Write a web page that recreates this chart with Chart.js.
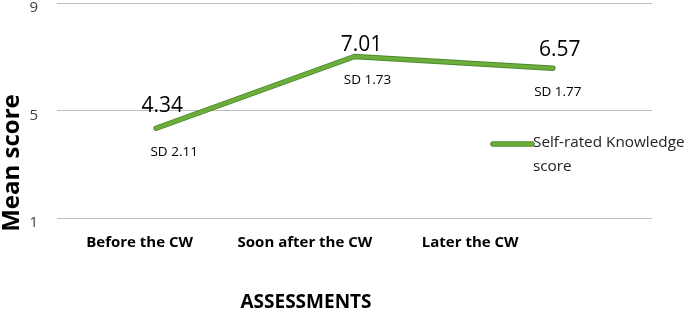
<!DOCTYPE html>
<html>
<head>
<meta charset="utf-8">
<script src="https://cdn.jsdelivr.net/npm/chart.js@4.4.1/dist/chart.umd.min.js"></script>
<style>
  html, body { margin: 0; padding: 0; background: #fff; }
  #wrap { width: 685px; height: 318px; }
</style>
</head>
<body>
<div id="wrap"><canvas id="myChart"></canvas></div>
<script>
const assessments = ["Before the CW", "Soon after the CW", "Later the CW"];
const meanScores = [4.34, 7.01, 6.57];
const sdLabels = ["SD 2.11", "SD 1.73", "SD 1.77"];
const yTicks = [1, 5, 9];
const seriesName = ["Self-rated Knowledge", "score"];

const FONT = "'Open Sans', 'DejaVu Sans', sans-serif";

// outline under the green line + value / SD labels + legend + axis titles
const decorations = {
  id: "decorations",
  beforeDatasetsDraw(chart) {
    const ctx = chart.ctx;
    const pts = chart.getDatasetMeta(0).data;
    ctx.save();
    ctx.strokeStyle = "#4f8a2c";
    ctx.lineWidth = 5.5;
    ctx.lineJoin = "round";
    ctx.lineCap = "round";
    ctx.beginPath();
    pts.forEach((p, i) => (i ? ctx.lineTo(p.x, p.y) : ctx.moveTo(p.x, p.y)));
    ctx.stroke();
    ctx.restore();
  },
  afterDraw(chart) {
    const ctx = chart.ctx;
    const area = chart.chartArea;
    const pts = chart.getDatasetMeta(0).data;
    const valOff = [[6, -16], [7, -5], [7, -12]];
    const sdOff = [[18, 28], [13, 28], [5, 28]];
    ctx.save();
    ctx.fillStyle = "#000";
    ctx.textAlign = "center";
    ctx.textBaseline = "alphabetic";
    pts.forEach((p, i) => {
      ctx.font = "21px " + FONT;
      ctx.fillText(meanScores[i].toFixed(2), p.x + valOff[i][0], p.y + valOff[i][1]);
      ctx.font = "13.5px " + FONT;
      ctx.fillText(sdLabels[i], p.x + sdOff[i][0], p.y + sdOff[i][1]);
    });

    // legend
    const lx = 493, ly = 144;
    ctx.strokeStyle = "#4f8a2c";
    ctx.lineWidth = 5.5;
    ctx.lineCap = "round";
    ctx.beginPath(); ctx.moveTo(lx, ly); ctx.lineTo(lx + 39, ly); ctx.stroke();
    ctx.strokeStyle = "#6cae3c";
    ctx.lineWidth = 3.5;
    ctx.beginPath(); ctx.moveTo(lx, ly); ctx.lineTo(lx + 39, ly); ctx.stroke();
    ctx.fillStyle = "#222";
    ctx.textAlign = "left";
    ctx.textBaseline = "middle";
    ctx.font = "15.3px " + FONT;
    ctx.fillText(seriesName[0], lx + 40, ly - 1);
    ctx.fillText(seriesName[1], lx + 40, ly + 23);

    // axis titles
    ctx.fillStyle = "#000";
    ctx.font = "bold 24px " + FONT;
    ctx.textAlign = "center";
    ctx.save();
    ctx.translate(12, 163);
    ctx.rotate(-Math.PI / 2);
    ctx.fillText("Mean score", 0, 0);
    ctx.restore();
    ctx.font = "bold 19px " + FONT;
    ctx.fillText("ASSESSMENTS", area.left + 249, 303);
    ctx.restore();
  }
};

const chart = new Chart(document.getElementById("myChart").getContext("2d"), {
  type: "line",
  data: {
    labels: assessments,
    datasets: [
      {
        label: seriesName.join(" "),
        data: meanScores,
        borderColor: "#6cae3c",
        borderWidth: 3.5,
        borderJoinStyle: "round",
        borderCapStyle: "round",
        pointRadius: 0,
        tension: 0,
        xAxisID: "x",
      },
    ],
  },
  options: {
    responsive: true,
    maintainAspectRatio: false,
    animation: false,
    layout: { padding: { top: 3, right: 33, left: 0, bottom: 0 } },
    plugins: { legend: { display: false }, tooltip: { enabled: false } },
    scales: {
      x: {
        type: "category",
        offset: true,
        display: false,
      },
      xl: {
        type: "linear",
        position: "bottom",
        min: 0,
        max: 3.6,
        afterBuildTicks: (scale) => {
          scale.ticks = assessments.map((c, i) => ({ value: i + 0.5 }));
        },
        afterFit: (scale) => { scale.height = 100; },
        grid: { display: false, drawTicks: false },
        border: { display: false },
        ticks: {
          padding: 16,
          color: "#000",
          font: { family: FONT, size: 15, weight: "bold" },
          callback: (v) => assessments[Math.round(v - 0.5)],
          maxRotation: 0,
        },
      },
      y: {
        min: 1,
        max: 9,
        afterBuildTicks: (scale) => {
          scale.ticks = yTicks.map((v) => ({ value: v }));
        },
        afterFit: (scale) => {
          scale.width = 57;
          scale.paddingTop = 0;
          scale.paddingBottom = 0;
        },
        grid: { color: "#bfbfbf", lineWidth: 1, drawTicks: true, tickLength: 19, tickColor: "rgba(0,0,0,0)" },
        border: { display: false },
        ticks: {
          padding: 0,
          labelOffset: 5,
          color: "#404040",
          font: { family: FONT, size: 15 },
        },
      },
    },
  },
  plugins: [decorations],
});
</script>
</body>
</html>
